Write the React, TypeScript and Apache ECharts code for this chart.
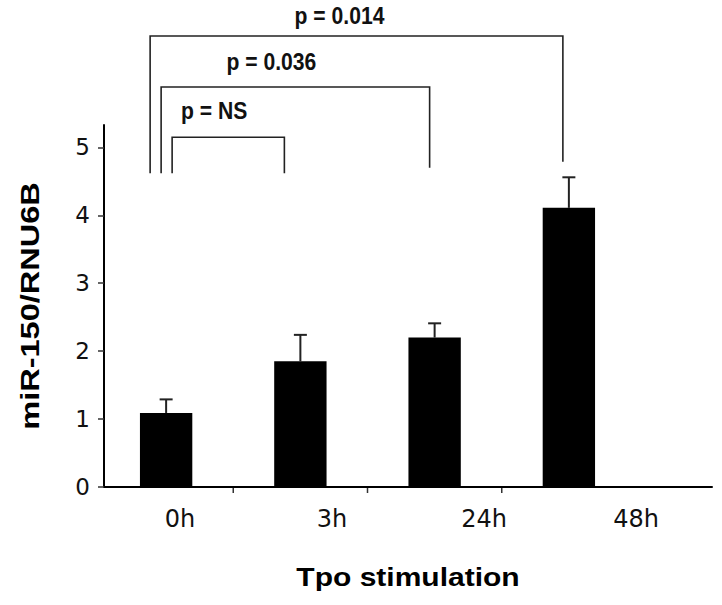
import React, { useEffect, useRef } from "react";
import * as echarts from "echarts";

const categories = ["0h", "3h", "24h", "48h"];
const means = [1.09, 1.85, 2.2, 4.11];
const errors = [0.2, 0.39, 0.21, 0.45];
const yTicks = [0, 1, 2, 3, 4, 5];
const comparisonFrom = [0, 0, 0];
const comparisonTo = [1, 2, 3];
const comparisonLabels = ["p = NS", "p = 0.036", "p = 0.014"];

// layout (annotation geometry, in axis units / pixel offsets)
const bracketLevels = [5.15, 5.89, 6.64];
const leftLegBottoms = [4.62, 4.62, 4.62];
const rightLegBottoms = [4.62, 4.7, 4.79];
const leftLegOffsets = [6, -5, -16];
const rightLegOffsets = [-16, -5, -6];
const labelDx = [-14, -24, -17];
const labelDy = [26, 25, 20];

const Y_MAX = 5.33;

export default function App() {
  const ref = useRef<HTMLDivElement>(null);
  useEffect(() => {
    if (!ref.current) return;
    const chart = echarts.init(ref.current, null, { renderer: "svg" });
    const gridBox = { top: 125, bottom: 118 };
    const option: any = {
      animation: false,
      backgroundColor: "#ffffff",
      grid: [
        { left: 99, right: 86, ...gridBox, outerBoundsMode: "none" },
        { left: 104, right: 10, ...gridBox, outerBoundsMode: "none" },
      ],
      xAxis: [
        {
          type: "category",
          gridIndex: 0,
          data: categories,
          axisLine: { show: false },
          axisTick: { show: false },
          axisLabel: { show: false },
          splitLine: { show: false },
        },
        {
          type: "category",
          gridIndex: 1,
          data: categories,
          axisLine: { show: true, lineStyle: { color: "#000", width: 2 } },
          axisTick: { show: false },
          axisLabel: {
            color: "#111",
            fontFamily: "DejaVu Sans",
            fontSize: 24,
            margin: 20,
          },
          splitLine: { show: false },
        },
      ],
      yAxis: [
        {
          type: "value",
          gridIndex: 0,
          min: 0,
          max: Y_MAX,
          show: false,
          splitLine: { show: false },
        },
        {
          type: "value",
          gridIndex: 1,
          min: 0,
          max: Y_MAX,
          axisLine: { show: true, lineStyle: { color: "#000", width: 2 } },
          axisTick: {
            show: true,
            length: 6,
            customValues: yTicks,
            lineStyle: { color: "#333", width: 1.5 },
          },
          axisLabel: {
            customValues: yTicks,
            color: "#111",
            fontFamily: "DejaVu Sans",
            fontSize: 23,
            margin: 14,
          },
          splitLine: { show: false },
        },
      ],
      series: [
        {
          type: "bar",
          xAxisIndex: 0,
          yAxisIndex: 0,
          data: means,
          barWidth: "39%",
          itemStyle: { color: "#000" },
          z: 2,
        },
        {
          type: "custom",
          xAxisIndex: 0,
          yAxisIndex: 0,
          clip: false,
          z: 3,
          data: means.map((m, i) => [i, m, m + errors[i]]),
          renderItem: (params: any, api: any) => {
            const i = api.value(0);
            const base = api.coord([i, api.value(1)]);
            const top = api.coord([i, api.value(2)]);
            const style = { stroke: "#222", lineWidth: 2, fill: "none" };
            return {
              type: "group",
              children: [
                { type: "line", shape: { x1: base[0], y1: base[1], x2: top[0], y2: top[1] }, style },
                { type: "line", shape: { x1: top[0] - 6.5, y1: top[1], x2: top[0] + 6.5, y2: top[1] }, style },
              ],
            };
          },
        },
        {
          type: "custom",
          xAxisIndex: 0,
          yAxisIndex: 0,
          clip: false,
          z: 3,
          data: categories.slice(0, -1).map((_, i) => [i, 0]),
          renderItem: (params: any, api: any) => {
            const i = api.value(0);
            const bw = api.size([1, 0])[0];
            const p = api.coord([i, 0]);
            const x = p[0] + bw / 2;
            return {
              type: "line",
              shape: { x1: x, y1: p[1] + 1, x2: x, y2: p[1] + 6 },
              style: { stroke: "#333", lineWidth: 1.5 },
            };
          },
        },
        {
          type: "custom",
          xAxisIndex: 0,
          yAxisIndex: 0,
          clip: false,
          z: 3,
          data: comparisonFrom.map((f, k) => [f, comparisonTo[k], k]),
          renderItem: (params: any, api: any) => {
            const f = api.value(0);
            const t = api.value(1);
            const k = api.value(2);
            const lTop = api.coord([f, bracketLevels[k]]);
            const lBot = api.coord([f, leftLegBottoms[k]]);
            const rTop = api.coord([t, bracketLevels[k]]);
            const rBot = api.coord([t, rightLegBottoms[k]]);
            const lx = lTop[0] + leftLegOffsets[k];
            const rx = rTop[0] + rightLegOffsets[k];
            const y = lTop[1];
            return {
              type: "group",
              children: [
                {
                  type: "polyline",
                  shape: {
                    points: [
                      [lx, lBot[1]],
                      [lx, y],
                      [rx, y],
                      [rx, rBot[1]],
                    ],
                  },
                  style: { stroke: "#222", lineWidth: 1.6, fill: "none" },
                },
                {
                  type: "text",
                  x: (lx + rx) / 2 + labelDx[k],
                  y: y - labelDy[k],
                  scaleX: 0.88,
                  style: {
                    text: comparisonLabels[k],
                    fill: "#111",
                    fontFamily: "Liberation Sans",
                    fontWeight: "bold",
                    fontSize: 24,
                    align: "center",
                    verticalAlign: "middle",
                    textAlign: "center",
                    textVerticalAlign: "middle",
                  },
                },
              ],
            };
          },
        },
      ],
      graphic: [
        {
          type: "text",
          x: 30,
          y: 306,
          rotation: Math.PI / 2,
          scaleX: 1.3,
          style: {
            text: "miR-150/RNU6B",
            fill: "#000",
            fontFamily: "Liberation Sans",
            fontWeight: "bold",
            fontSize: 25,
            align: "center",
            verticalAlign: "middle",
            textAlign: "center",
            textVerticalAlign: "middle",
          },
        },
        {
          type: "text",
          x: 408,
          y: 577,
          scaleX: 1.2,
          style: {
            text: "Tpo stimulation",
            fill: "#000",
            fontFamily: "Liberation Sans",
            fontWeight: "bold",
            fontSize: 25,
            align: "center",
            verticalAlign: "middle",
            textAlign: "center",
            textVerticalAlign: "middle",
          },
        },
      ],
    };
    chart.setOption(option);
    return () => chart.dispose();
  }, []);
  return <div ref={ref} style={{ width: 722, height: 605, position: "absolute", left: 0, top: 0 }} />;
}
